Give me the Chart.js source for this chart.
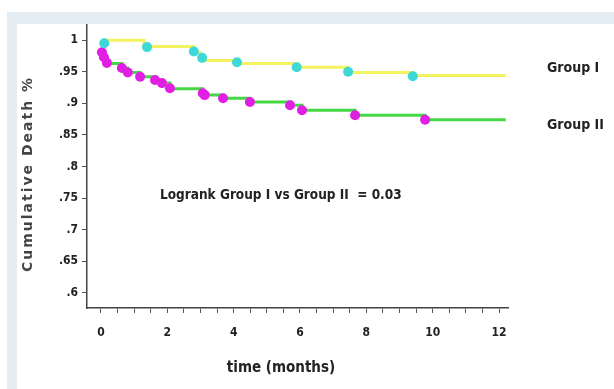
<!DOCTYPE html>
<html>
<head>
<meta charset="utf-8">
<script src="https://cdn.jsdelivr.net/npm/chart.js@4"></script>
<style>
  html, body { margin: 0; padding: 0; background: #fff; }
  #frame { position: absolute; left: 7px; top: 12px; right: 0; bottom: 0; background: #e4ecf4; }
  #panel { position: absolute; left: 17px; top: 24px; right: 0; bottom: 0; background: #fff; }
  #plot { position: absolute; left: 0; top: 0; }
</style>
</head>
<body>
<div id="frame"></div>
<div id="panel"></div>
<canvas id="plot" width="614" height="389"></canvas>
<script>
// Kaplan-Meier steps (time in months, cumulative value)
const g1Time = [0, 1.3, 2.8, 3.0, 4.1, 5.9, 7.45, 9.4, 12.2];
const g1Surv = [1.0, 0.99, 0.981, 0.968, 0.963, 0.957, 0.949, 0.944, 0.944];
const g1MarkTime = [0.1, 1.39, 2.8, 3.05, 4.1, 5.9, 7.45, 9.4];
const g1MarkSurv = [0.995, 0.989, 0.982, 0.972, 0.965, 0.957, 0.95, 0.943];

const g2Time = [0, 0.05, 0.12, 0.2, 0.63, 0.81, 1.18, 1.63, 1.84, 2.08, 3.07, 3.13, 3.68, 4.49, 5.7, 6.06, 7.66, 9.77, 12.2];
const g2Surv = [0.985, 0.979, 0.971, 0.963, 0.956, 0.949, 0.942, 0.937, 0.932, 0.923, 0.916, 0.913, 0.908, 0.902, 0.897, 0.889, 0.881, 0.874, 0.874];
const g2MarkTime = [0.03, 0.09, 0.18, 0.63, 0.81, 1.18, 1.63, 1.84, 2.08, 3.07, 3.13, 3.68, 4.49, 5.7, 6.06, 7.66, 9.77];
const g2MarkSurv = [0.981, 0.973, 0.964, 0.956, 0.949, 0.942, 0.937, 0.932, 0.924, 0.916, 0.913, 0.908, 0.902, 0.897, 0.889, 0.881, 0.874];

const xTicks = [0, 0.5, 1, 1.5, 2, 2.5, 3, 3.5, 4, 4.5, 5, 5.5, 6, 6.5, 7, 7.5, 8, 8.5, 9, 9.5, 10, 10.5, 11, 11.5, 12];
const yTicks = [0.6, 0.65, 0.7, 0.75, 0.8, 0.85, 0.9, 0.95, 1];

const seriesNames = ["Group I", "Group II"];
const logrankText = "Logrank Group I vs Group II  = 0.03";
const xTitle = "time (months)";
const yTitle = "Cumulative Death %";

const narrow = "'Liberation Sans Narrow', 'DejaVu Sans Condensed', 'Arial Narrow', sans-serif";

const pts = (xs, ys) => xs.map((x, i) => ({ x: x, y: ys[i] }));

// extra text: axis titles, group labels, logrank note
const textPlugin = {
  id: "texts",
  afterDraw(chart) {
    const ctx = chart.ctx;
    ctx.save();
    ctx.fillStyle = "#222";
    ctx.textBaseline = "middle";
    ctx.textAlign = "left";
    ctx.font = "bold 14px " + narrow;
    ctx.fillText(seriesNames[0], 547, 68);
    ctx.fillText(seriesNames[1], 547, 125);
    ctx.font = "bold 13.5px " + narrow;
    ctx.fillText(logrankText, 160, 195);
    ctx.textAlign = "center";
    ctx.font = "bold 15px " + narrow;
    ctx.fillText(xTitle, 281, 368);
    ctx.translate(28, 174);
    ctx.rotate(-Math.PI / 2);
    ctx.fillStyle = "#444";
    ctx.font = "bold 14px 'DejaVu Sans', sans-serif";
    if ("letterSpacing" in ctx) ctx.letterSpacing = "2px";
    ctx.fillText(yTitle, 0, 0);
    ctx.restore();
  }
};

new Chart(document.getElementById("plot").getContext("2d"), {
  type: "scatter",
  data: {
    datasets: [
      { data: pts(g1MarkTime, g1MarkSurv), backgroundColor: "#3fd8d8", borderWidth: 0, pointRadius: 5, order: 0 },
      { data: pts(g2MarkTime, g2MarkSurv), backgroundColor: "#e21ee2", borderWidth: 0, pointRadius: 5, order: 0 },
      { data: pts(g1Time, g1Surv), showLine: true, stepped: "before", borderColor: "#f3f360", borderWidth: 3, pointRadius: 0, order: 1 },
      { data: pts(g2Time, g2Surv), showLine: true, stepped: "before", borderColor: "#45d845", borderWidth: 3, pointRadius: 0, order: 1 }
    ]
  },
  options: {
    responsive: false,
    devicePixelRatio: 1,
    animation: false,
    layout: { padding: { top: 25, right: 106, left: 0, bottom: 0 } },
    plugins: { legend: { display: false }, tooltip: { enabled: false } },
    scales: {
      x: {
        type: "linear",
        min: -0.42,
        max: 12.27,
        afterBuildTicks: s => { s.ticks = xTicks.map(v => ({ value: v })); },
        afterFit: s => { s.height = 81; },
        border: { display: true, color: "#444", width: 1.5 },
        grid: { drawOnChartArea: false, drawTicks: true, tickLength: 5, color: "#555", lineWidth: 1 },
        ticks: {
          autoSkip: false,
          maxRotation: 0,
          padding: 13,
          color: "#222",
          font: { family: narrow, size: 12, weight: "bold" },
          callback: v => (v % 2 === 0 ? String(v) : "")
        }
      },
      y: {
        min: 0.576,
        max: 1.024,
        afterBuildTicks: s => { s.ticks = yTicks.map(v => ({ value: v })); },
        afterFit: s => { s.width = 87; },
        border: { display: true, color: "#444", width: 1.5 },
        grid: { drawOnChartArea: false, drawTicks: true, tickLength: 5, color: "#555", lineWidth: 1 },
        ticks: {
          autoSkip: false,
          padding: 4,
          color: "#222",
          font: { family: narrow, size: 12, weight: "bold" },
          callback: v => (v === 1 ? "1" : String(Math.round(v * 100) / 100).replace(/^0/, ""))
        }
      }
    }
  },
  plugins: [textPlugin]
});
</script>
</body>
</html>
